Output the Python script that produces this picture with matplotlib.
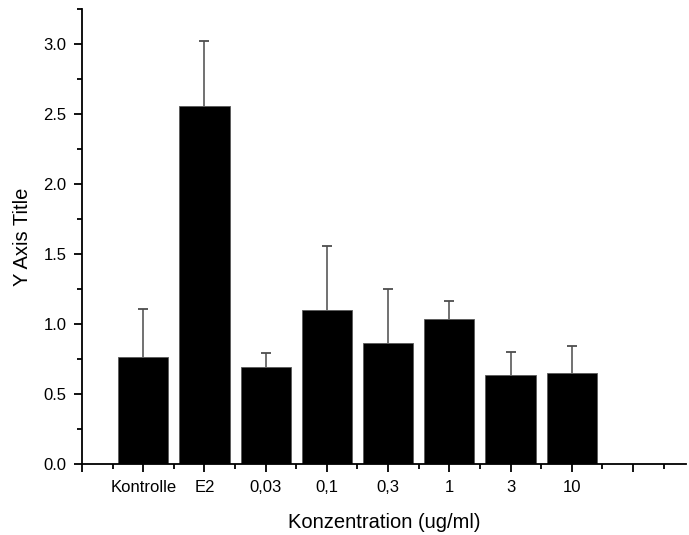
import numpy as np
import matplotlib.pyplot as plt
from matplotlib.ticker import MultipleLocator

plt.rcParams['font.family'] = ['Liberation Sans', 'DejaVu Sans']

categories = ['Kontrolle', 'E2', '0,03', '0,1', '0,3', '1', '3', '10']
means = [0.765, 2.56, 0.698, 1.105, 0.867, 1.041, 0.639, 0.656]
err_top = [1.107, 3.02, 0.793, 1.557, 1.254, 1.169, 0.800, 0.848]

fig = plt.figure(figsize=(6.89, 5.35), dpi=100)
ax = fig.add_axes([0.119, 0.1318, 0.877, 0.851])

x = np.arange(1, len(categories) + 1)
ax.bar(x, means, width=0.82, color='black', edgecolor='0.35', linewidth=0.6,
       zorder=2)
# upper error bars only, no cap at the bar top
ax.vlines(x, means, err_top, colors='0.35', linewidth=1.2, zorder=1)
ax.plot(x, err_top, linestyle='none', marker='_', markersize=7,
        markeredgewidth=1.3, color='0.3', zorder=1)

ax.set_xlim(0, 9.87)
ax.set_ylim(0, 3.25)
ax.set_xticks(np.arange(0, 10))
ax.set_xticklabels([''] + categories + [''])
ax.set_xticks(np.arange(0.5, 10, 1), minor=True)
ax.yaxis.set_major_locator(MultipleLocator(0.5))
ax.yaxis.set_minor_locator(MultipleLocator(0.25))
ax.yaxis.set_major_formatter(plt.FormatStrFormatter('%.1f'))

for s in ['top', 'right']:
    ax.spines[s].set_visible(False)
for s in ['left', 'bottom']:
    ax.spines[s].set_linewidth(1.3)

ax.tick_params(which='major', direction='out', length=6, width=1.3,
               labelsize=12, pad=5)
ax.tick_params(which='minor', direction='out', length=3.5, width=1.3)

ax.set_xlabel('Konzentration (ug/ml)', fontsize=14.5, labelpad=13)
ax.set_ylabel('Y Axis Title', fontsize=14.5, labelpad=8)

fig.savefig('out.png', dpi=100)
